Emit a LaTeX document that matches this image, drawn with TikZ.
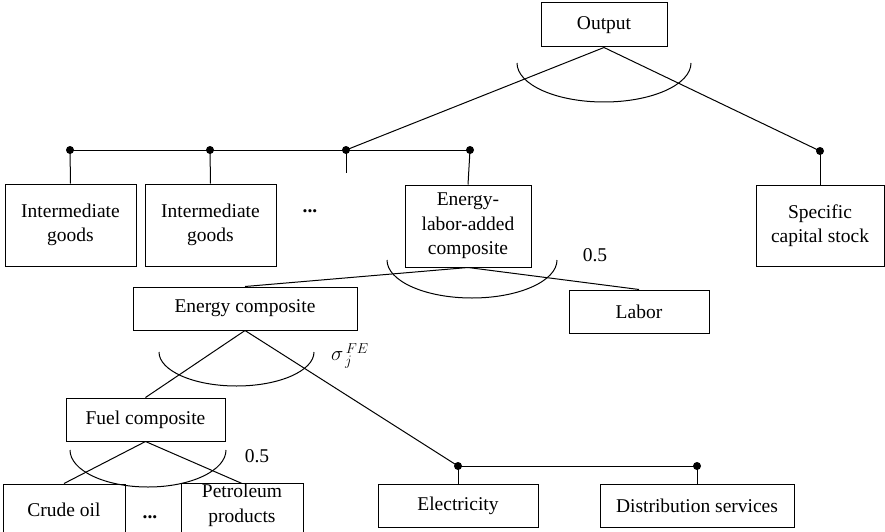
\documentclass[tikz,border=0pt]{standalone}
\usepackage{fontspec}
\setmainfont{Liberation Serif}
\newfontfamily\boxfont{Liberation Serif}
\usepackage{amsmath}
\tikzset{box node/.style={rectangle,draw,inner sep=0pt,align=center,font=\boxfont\fontsize{19.5}{24.5}\selectfont},
  dot/.style={circle,fill=black,inner sep=0pt,minimum size=8pt},
  tag/.style={font=\boxfont\fontsize{19.5}{24}\selectfont} }

\begin{document}
\begin{tikzpicture}[x=1pt,y=1pt,line width=1pt]
\useasboundingbox (0,0) rectangle (885,-532);

  % top level
  \node[box node,minimum width=126,minimum height=44] (out) at (604,-25) {Output};
  \node[box node,minimum width=131,minimum height=82] (ig1) at (70.5,-225) {Intermediate\\goods};
  \node[box node,minimum width=131,minimum height=82] (ig2) at (210.5,-225) {Intermediate\\goods};
  \node[tag] (dd1) at (310,-211) {\textbf{...}};
  \node[box node,minimum width=126,minimum height=82] (elc) at (468,-226) {Energy-\\labor-added\\composite};
  \node[box node,minimum width=128,minimum height=81] (cap) at (820,-225.5) {Specific\\capital stock};

  % second and third level
  \node[box node,minimum width=224,minimum height=43] (enc) at (245,-308.5) {Energy composite};
  \node[box node,minimum width=140,minimum height=43] (lab) at (639,-311.5) {Labor};
  \node[box node,minimum width=159,minimum height=43] (fuel) at (145.5,-419.5) {Fuel composite};
  \node[box node,minimum width=122,minimum height=52] (crude) at (64,-510) {Crude oil};
  \node[tag] (dd2) at (150,-517) {\textbf{...}};
  \node[box node,minimum width=122,minimum height=52,text depth=14pt] (petro) at (242,-510) {Petroleum\\products};
  \node[box node,minimum width=160,minimum height=43] (elec) at (458,-505.5) {Electricity};
  \node[box node,minimum width=194,minimum height=43] (dist) at (697,-505.5) {Distribution services};

  % junction points
  \node[dot] (j1) at (70,-150) {};
  \node[dot] (j2) at (210,-150) {};
  \node[dot] (j3) at (346,-150) {};
  \node[dot] (j4) at (470,-150) {};
  \node[dot] (j5) at (820,-151) {};
  \node[dot] (j6) at (458,-466) {};
  \node[dot] (j7) at (697,-466) {};
  \coordinate (t3) at (346,-173);

  % connectors
  \draw (out.south) -- (j3.center);
  \draw (out.south) -- (j5.center);
  \draw (j1.center) -- (j4.center);
  \draw (j1.center) -- (ig1.north);
  \draw (j2.center) -- (ig2.north);
  \draw (j3.center) -- (t3);
  \draw (j4.center) -- (elc.north);
  \draw (j5.center) -- (cap.north);
  \draw (elc.south) -- (enc.north);
  \draw (elc.south) -- (lab.north);
  \draw (enc.south) -- (fuel.north);
  \draw (enc.south) -- (j6.center);
  \draw (j6.center) -- (j7.center);
  \draw (j6.center) -- (elec.north);
  \draw (j7.center) -- (dist.north);
  \draw (fuel.south) -- (crude.north);
  \draw (fuel.south) -- (petro.north);

  % substitution arcs
  \draw (517,-63) arc[start angle=180,end angle=360,x radius=87pt,y radius=39pt];
  \draw (387,-260) arc[start angle=180,end angle=360,x radius=85pt,y radius=38pt];
  \draw (159,-352) arc[start angle=180,end angle=360,x radius=77.5pt,y radius=34pt];
  \draw (70,-450) arc[start angle=180,end angle=360,x radius=78pt,y radius=37pt];

  \node[tag] (e1) at (595,-255) {0.5};
  \node[tag] (e2) at (350,-356) {$\sigma_{\,j}^{\,FE}$};
  \node[tag] (e3) at (257,-456) {0.5};
\end{tikzpicture}
\end{document}
